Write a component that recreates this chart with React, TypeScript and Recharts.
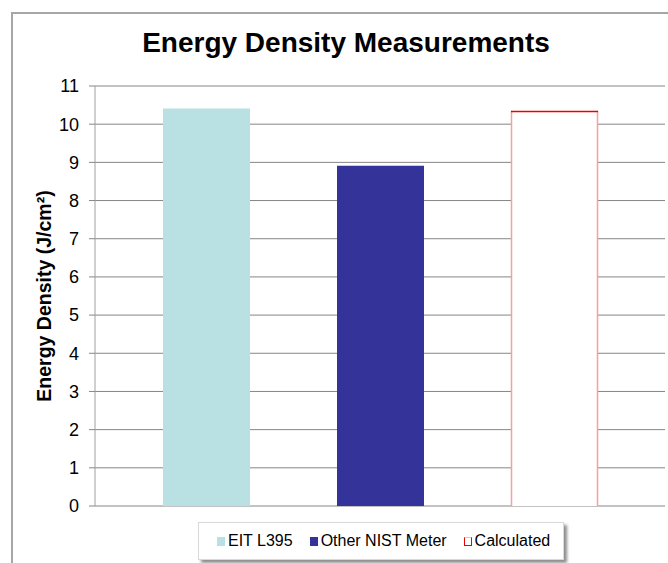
import { BarChart, Bar, XAxis, YAxis, CartesianGrid } from "recharts";

const seriesNames = ["EIT L395", "Other NIST Meter", "Calculated"];
const seriesKeys = ["eit", "nist", "calc"];
const seriesValues = [10.41, 8.91, 10.35];
const seriesFills = ["#b9e0e3", "#333399", "#ffffff"];
const seriesStrokes = ["none", "none", "#ee0000"];
const yTicks = [0, 1, 2, 3, 4, 5, 6, 7, 8, 9, 10, 11];

const row: Record<string, string | number> = { name: "" };
seriesKeys.forEach((k, i) => {
  row[k] = seriesValues[i];
});
const data = [row];

const FONT = "'Liberation Sans', Arial, sans-serif";
const NARROW = "'Liberation Sans Narrow', 'Arial Narrow', 'Liberation Sans', sans-serif";

function AxisTitle({ viewBox }: any) {
  const x = viewBox.x + 9;
  const y = viewBox.y + viewBox.height / 2;
  return (
    <text
      x={x}
      y={y}
      transform={`rotate(-90 ${x} ${y})`}
      textAnchor="middle"
      dominantBaseline="central"
      fontFamily={FONT}
      fontWeight="bold"
      fontSize={19.5}
      fill="#000"
    >
      Energy Density (J/cm²)
    </text>
  );
}

// open-style bar: red top edge, faded red sides
function OutlineBar(props: any) {
  const { x, y, width, height } = props;
  const top = Math.round(y) + 0.5;
  return (
    <g>
      <rect x={x} y={y} width={width} height={height} fill="#fff" />
      <line x1={x + 0.5} y1={y} x2={x + 0.5} y2={y + height} stroke="#ff9d9d" strokeWidth={1.5} />
      <line x1={x + width - 0.5} y1={y} x2={x + width - 0.5} y2={y + height} stroke="#ff9d9d" strokeWidth={1.5} />
      <line x1={x} y1={top} x2={x + width} y2={top} stroke="#ee0000" strokeWidth={1.5} />
    </g>
  );
}

function LegendBox() {
  return (
    <div
      style={{
        position: "absolute",
        left: 198,
        top: 522,
        height: 36,
        display: "flex",
        alignItems: "center",
        gap: 17,
        padding: "0 13px 0 18px",
        background: "#fff",
        border: "1px solid #d9d9d9",
        boxShadow: "3px 3px 3px rgba(0,0,0,0.45)",
        fontFamily: FONT,
        fontSize: 16,
        color: "#000",
        whiteSpace: "nowrap",
      }}
    >
      {seriesNames.map((n, i) => (
        <div key={n} style={{ display: "flex", alignItems: "center", gap: 3 }}>
          <span
            style={{
              display: "inline-block",
              width: 8,
              height: 9,
              boxSizing: "border-box",
              background: seriesFills[i],
              border: seriesStrokes[i] === "none" ? "none" : `1px solid ${seriesStrokes[i]}`,
              borderTopColor: seriesStrokes[i] === "none" ? undefined : "#ffb0b0",
            }}
          />
          <span>{n}</span>
        </div>
      ))}
    </div>
  );
}

export default function App() {
  return (
    <div style={{ position: "absolute", left: 0, top: 0, width: 668, height: 563, overflow: "hidden", background: "#fff" }}>
      <div
        style={{
          position: "absolute",
          left: 11,
          top: 12,
          width: 700,
          height: 600,
          borderLeft: "2px solid #a6a6a6",
          borderTop: "2px solid #a6a6a6",
        }}
      />
      <div
        style={{
          position: "absolute",
          left: 0,
          top: 29,
          width: 692,
          textAlign: "center",
          fontFamily: NARROW,
          fontWeight: "bold",
          fontSize: 28,
          lineHeight: "28px",
          color: "#000",
        }}
      >
        Energy Density Measurements
      </div>
      <div style={{ position: "absolute", left: 0, top: 0 }}>
        <BarChart
          width={668}
          height={563}
          data={data}
          margin={{ top: 86, right: 3, bottom: 57, left: 35 }}
          barSize={87}
          barGap={87}
        >
          <CartesianGrid vertical={false} stroke="#868686" />
          <XAxis dataKey="name" tick={false} tickLine={false} height={0} axisLine={{ stroke: "#868686" }} />
          <YAxis
            domain={[0, 11]}
            ticks={yTicks}
            interval={0}
            width={60}
            tickSize={6}
            tickMargin={10}
            axisLine={{ stroke: "#a0a0a0" }}
            tickLine={{ stroke: "#868686" }}
            tick={{ fill: "#000", fontSize: 18, fontFamily: FONT }}
            label={{ content: AxisTitle }}
          />
          <YAxis
            yAxisId="right"
            orientation="right"
            width={0}
            tick={false}
            tickLine={false}
            axisLine={{ stroke: "#a6a6a6", strokeWidth: 2 }}
          />
          {seriesKeys.map((k, i) => (
            <Bar
              key={k}
              dataKey={k}
              name={seriesNames[i]}
              fill={seriesFills[i]}
              shape={seriesStrokes[i] === "none" ? undefined : OutlineBar}
              isAnimationActive={false}
            />
          ))}
        </BarChart>
      </div>
      <LegendBox />
    </div>
  );
}
